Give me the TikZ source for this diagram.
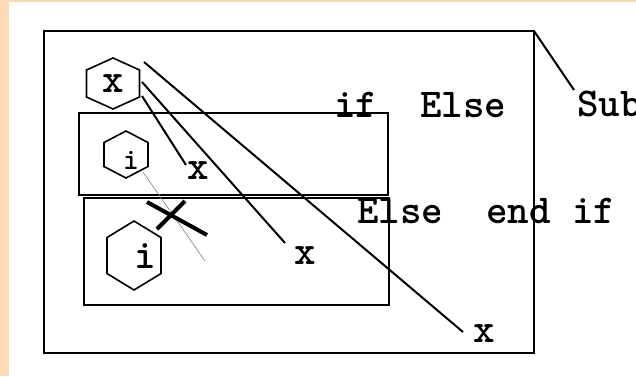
\documentclass[tikz,border=0pt]{standalone}
\usepackage{fontspec}
\definecolor{peach}{RGB}{253,217,181}
\tikzset{
  frame/.style={draw=black, line width=2pt},
  hexline/.style={draw=black, line width=1.6pt, line join=miter},
  link/.style={draw=black, line width=2pt},
  thinlink/.style={draw=gray, line width=0.6pt},
  crossline/.style={draw=black, line width=4pt},
  word/.style={inner sep=0pt, anchor=base west, font=\ttfamily\bfseries\fontsize{41}{41}\selectfont},
  lbl/.style={inner sep=0pt, font=\ttfamily\bfseries\fontsize{41}{41}\selectfont},
  smalllbl/.style={inner sep=0pt, font=\ttfamily\bfseries\fontsize{30}{30}\selectfont}
}
\newcommand\hexpath[4]{\draw[hexline] ([shift={(0,-#3)}]#1) -- ([shift={(#2,-#4)}]#1) -- ([shift={(#2,#4)}]#1) -- ([shift={(0,#3)}]#1) -- ([shift={(-#2,#4)}]#1) -- ([shift={(-#2,-#4)}]#1) -- cycle;}
\begin{document}
\begin{tikzpicture}[x=1pt,y=-1pt]
\clip (0,0) rectangle (636,376);
\fill[white] (0,0) rectangle (636,376);
\fill[peach] (0,0) rectangle (9,376);
\fill[peach] (0,0) rectangle (636,1.5);

% frames
\draw[frame] (44,31) rectangle (534,353);
\draw[frame] (79,113) rectangle (388,194.5);
\draw[frame] (84,198) rectangle (389,305);

% hexagon centres
\coordinate (hexx) at (113,83.5);
\coordinate (hexi1) at (126,154.5);
\coordinate (hexi2) at (134,255.5);
\hexpath{hexx}{26.5}{25.5}{13.5}
\hexpath{hexi1}{22}{23.5}{12}
\hexpath{hexi2}{27}{34.5}{18}

% labels
\node[lbl] (xh) at (113,84) {x};
\node[smalllbl] (ih1) at (131,160) {i};
\node[lbl] (ih2) at (145,256) {i};
\node[lbl] (x2) at (198,171) {x};
\node[lbl] (x3) at (305,256) {x};
\node[lbl] (x4) at (484,334) {x};

\node[word] (if1) at (334,117) {if};
\node[word] (else1) at (420,117) {Else};
\node[word] (sub) at (577,116) {Sub};
\node[word] (else2) at (357,223) {Else};
\node[word] (endif) at (486,223) {end if};

% connector end points
\coordinate (a1) at (142,96);  \coordinate (a2) at (186,165);
\coordinate (b1) at (142,82);  \coordinate (b2) at (285,243);
\coordinate (c1) at (144,62);  \coordinate (c2) at (463,332);
\coordinate (g1) at (143,172); \coordinate (g2) at (205,261);
\coordinate (k1) at (147,202); \coordinate (k2) at (207,235);
\coordinate (k3) at (185,201); \coordinate (k4) at (157,229);
\coordinate (s1) at (534,31);  \coordinate (s2) at (574,90);

\draw[link] (a1) -- (a2);
\draw[link] (b1) -- (b2);
\draw[link] (c1) -- (c2);
\draw[thinlink] (g1) -- (g2);
\draw[crossline] (k1) -- (k2);
\draw[crossline] (k3) -- (k4);
\draw[link] (s1) -- (s2);
\end{tikzpicture}
\end{document}
